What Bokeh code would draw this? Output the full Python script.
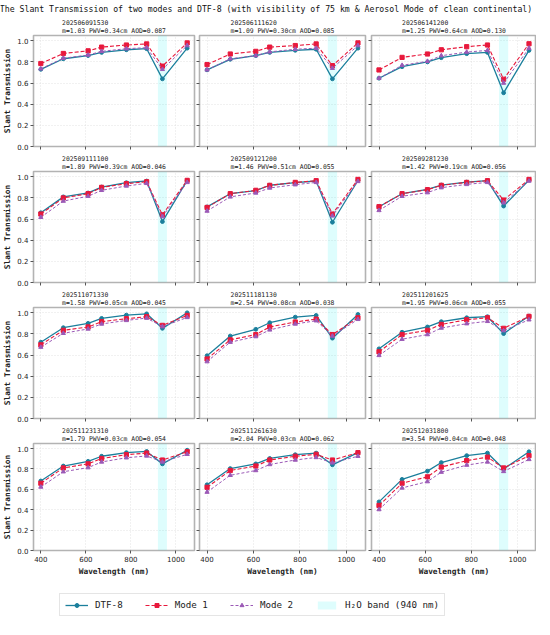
from bokeh.plotting import figure
from bokeh.layouts import column, row
from bokeh.models import (Range1d, FixedTicker, PrintfTickFormatter, BoxAnnotation,
                          Legend, LegendItem)
from bokeh.core.properties import value
from bokeh.embed import file_html
from bokeh.resources import INLINE

# ---------------- data ----------------
main_title = ("The Slant Transmission of two modes and DTF-8 "
              "(with visibility of 75 km & Aerosol Mode of clean continental)")
wavelengths = [400, 500, 610, 670, 780, 870, 940, 1050]
h2o_band = [920, 960]
timestamps = ["202506091530", "202506111620", "202506141200",
              "202509111100", "202509121200", "202509281230",
              "202511071330", "202511181130", "202511201625",
              "202511231310", "202511261630", "202512031800"]
params = ["m=1.03 PWV=0.34cm AOD=0.087", "m=1.09 PWV=0.30cm AOD=0.085",
          "m=1.25 PWV=0.64cm AOD=0.130", "m=1.89 PWV=0.39cm AOD=0.046",
          "m=1.46 PWV=0.51cm AOD=0.055", "m=1.42 PWV=0.19cm AOD=0.056",
          "m=1.58 PWV=0.05cm AOD=0.045", "m=2.54 PWV=0.08cm AOD=0.038",
          "m=1.95 PWV=0.06cm AOD=0.055", "m=1.79 PWV=0.03cm AOD=0.054",
          "m=2.04 PWV=0.03cm AOD=0.062", "m=3.54 PWV=0.04cm AOD=0.048"]
dtf8 = [
    [0.730, 0.830, 0.860, 0.890, 0.915, 0.925, 0.640, 0.930],
    [0.725, 0.825, 0.860, 0.890, 0.910, 0.920, 0.640, 0.930],
    [0.646, 0.755, 0.800, 0.840, 0.878, 0.890, 0.508, 0.909],
    [0.660, 0.810, 0.847, 0.903, 0.944, 0.960, 0.576, 0.966],
    [0.715, 0.840, 0.870, 0.920, 0.945, 0.960, 0.570, 0.965],
    [0.717, 0.840, 0.880, 0.922, 0.950, 0.963, 0.723, 0.969],
    [0.722, 0.859, 0.900, 0.947, 0.978, 0.990, 0.853, 1.000],
    [0.594, 0.780, 0.844, 0.906, 0.959, 0.975, 0.760, 0.984],
    [0.659, 0.816, 0.866, 0.916, 0.953, 0.963, 0.803, 0.969],
    [0.682, 0.829, 0.875, 0.925, 0.960, 0.972, 0.850, 0.984],
    [0.645, 0.804, 0.850, 0.903, 0.940, 0.956, 0.841, 0.960],
    [0.477, 0.698, 0.779, 0.863, 0.931, 0.956, 0.800, 0.969],
]
mode1 = [
    [0.785, 0.880, 0.905, 0.940, 0.960, 0.970, 0.760, 0.980],
    [0.775, 0.875, 0.900, 0.940, 0.955, 0.970, 0.765, 0.980],
    [0.724, 0.843, 0.875, 0.915, 0.944, 0.960, 0.636, 0.972],
    [0.648, 0.800, 0.840, 0.900, 0.935, 0.953, 0.640, 0.966],
    [0.710, 0.840, 0.872, 0.919, 0.947, 0.963, 0.648, 0.975],
    [0.717, 0.840, 0.878, 0.919, 0.947, 0.963, 0.780, 0.975],
    [0.697, 0.834, 0.866, 0.916, 0.944, 0.963, 0.881, 0.975],
    [0.563, 0.744, 0.794, 0.866, 0.913, 0.940, 0.794, 0.953],
    [0.631, 0.794, 0.834, 0.890, 0.934, 0.953, 0.853, 0.966],
    [0.660, 0.810, 0.850, 0.903, 0.940, 0.956, 0.888, 0.969],
    [0.620, 0.785, 0.829, 0.888, 0.925, 0.944, 0.888, 0.960],
    [0.442, 0.660, 0.723, 0.819, 0.882, 0.916, 0.810, 0.931],
]
mode2 = [
    [0.735, 0.835, 0.865, 0.900, 0.925, 0.935, 0.730, 0.955],
    [0.725, 0.830, 0.860, 0.895, 0.920, 0.930, 0.740, 0.955],
    [0.646, 0.768, 0.806, 0.859, 0.893, 0.909, 0.600, 0.930],
    [0.617, 0.770, 0.816, 0.872, 0.913, 0.938, 0.623, 0.947],
    [0.676, 0.810, 0.847, 0.894, 0.925, 0.947, 0.630, 0.956],
    [0.682, 0.816, 0.850, 0.897, 0.928, 0.947, 0.754, 0.960],
    [0.675, 0.806, 0.847, 0.894, 0.928, 0.950, 0.869, 0.956],
    [0.538, 0.722, 0.775, 0.838, 0.894, 0.925, 0.780, 0.938],
    [0.597, 0.750, 0.794, 0.856, 0.897, 0.919, 0.831, 0.934],
    [0.623, 0.773, 0.813, 0.869, 0.910, 0.928, 0.869, 0.944],
    [0.573, 0.738, 0.785, 0.844, 0.888, 0.913, 0.860, 0.925],
    [0.402, 0.614, 0.676, 0.769, 0.838, 0.869, 0.776, 0.894],
]
series_names = ["DTF-8", "Mode 1", "Mode 2"]
band_label = "H\u2082O band (940 nm)"
x_ticks = [400, 600, 800, 1000]
y_ticks = [0.0, 0.2, 0.4, 0.6, 0.8, 1.0]

# ---------------- style ----------------
MONO = "DejaVu Sans Mono"
SANS = "DejaVu Sans"
C_DTF = "#1b7f9c"
C_M1 = "#e8193c"
C_M2 = "#9b59b6"
C_BAND = "#00f0f0"
BAND_ALPHA = 0.13

col_w = [196, 172, 168]
col_l = [29, 3, 3]
col_r = [2, 3, 0]
TOP = 18


def hide_labels(ax, ticks):
    ax.major_label_overrides = {t: "" for t in ticks}
    ax.major_label_text_font_size = "1px"
    ax.major_label_standoff = 0


def make_panel(i):
    r, c = divmod(i, 3)
    last_row = (r == 3)
    bottom = 24 if last_row else 6
    h = TOP + 112 + bottom
    p = figure(width=col_w[c], height=h,
               x_range=Range1d(367.5, 1082.5), y_range=Range1d(0, 1.05),
               output_backend="svg", toolbar_location=None,
               min_border_left=col_l[c], min_border_right=col_r[c],
               min_border_top=TOP, min_border_bottom=bottom,
               title=timestamps[i] + "\n" + params[i])
    p.title.align = "center"
    p.title.text_font = MONO
    p.title.text_font_size = "6.4px"
    p.title.text_font_style = "normal"
    p.title.text_color = "#222222"
    p.title.standoff = 1
    p.title.text_line_height = 1.0

    p.outline_line_color = "#b3b3b3"
    p.outline_line_width = 1.6
    p.background_fill_color = "white"
    p.border_fill_color = "white"

    for ax in (p.xaxis[0], p.yaxis[0]):
        ax.axis_line_color = None
        ax.major_tick_in = 0
        ax.major_tick_out = 3
        ax.minor_tick_in = 0
        ax.minor_tick_out = 0
        ax.major_tick_line_color = "#555555"
        ax.minor_tick_line_color = None
        ax.major_label_text_font = SANS
        ax.major_label_text_font_size = "7px"
        ax.major_label_text_color = "#222222"
        ax.axis_label_text_font = MONO
        ax.axis_label_text_font_size = "7.8px"
        ax.axis_label_text_font_style = "bold"
        ax.axis_label_text_color = "#222222"
        ax.axis_label_standoff = 2
        ax.major_label_standoff = 2
    p.xaxis.ticker = FixedTicker(ticks=x_ticks)
    p.yaxis.ticker = FixedTicker(ticks=y_ticks)
    p.yaxis.formatter = PrintfTickFormatter(format="%.1f")
    if last_row:
        p.xaxis.axis_label = "Wavelength (nm)"
    else:
        hide_labels(p.xaxis[0], x_ticks)
    if c == 0:
        p.yaxis.axis_label = "Slant Transmission"
    else:
        hide_labels(p.yaxis[0], y_ticks)

    p.xgrid.ticker = FixedTicker(ticks=x_ticks)
    p.ygrid.ticker = FixedTicker(ticks=y_ticks)
    p.grid.grid_line_color = "#dcdcdc"
    p.grid.grid_line_dash = "1 2"
    p.grid.grid_line_width = 0.8

    p.add_layout(BoxAnnotation(left=h2o_band[0], right=h2o_band[1],
                               fill_color=C_BAND, fill_alpha=BAND_ALPHA,
                               line_color=None, level="underlay"))

    p.line(wavelengths, dtf8[i], line_color=C_DTF, line_width=1.3)
    p.scatter(wavelengths, dtf8[i], marker="circle", size=3.8,
              fill_color=C_DTF, line_color=C_DTF)
    p.line(wavelengths, mode1[i], line_color=C_M1, line_width=1.1,
           line_dash="4 2")
    p.scatter(wavelengths, mode1[i], marker="square", size=4.2,
              fill_color=C_M1, line_color=C_M1)
    p.line(wavelengths, mode2[i], line_color=C_M2, line_width=1.0,
           line_dash="3 2")
    p.scatter(wavelengths, mode2[i], marker="triangle", size=4.2,
              fill_color=C_M2, line_color=C_M2)
    return p


panels = [make_panel(i) for i in range(12)]
total_w = sum(col_w)
title_w = 540

# title strip
tfig = figure(width=title_w, height=16, x_range=Range1d(0, title_w), y_range=Range1d(0, 1),
              output_backend="svg", toolbar_location=None,
              min_border=0, x_axis_type=None, y_axis_type=None)
tfig.outline_line_color = None
tfig.grid.visible = False
tfig.text(x=[265.5], y=[0.5], text=[main_title], text_align="center",
          text_baseline="middle", text_font=value(MONO),
          text_font_size=value("8.2px"), text_color="#111111")

# legend strip: the legend renderers reuse the series data, which lies outside
# this strip's ranges, so only the legend itself is visible
lfig = figure(width=total_w, height=41, x_range=Range1d(0, 1), y_range=Range1d(0, 1),
              output_backend="svg", toolbar_location=None,
              min_border=0, x_axis_type=None, y_axis_type=None)
lfig.outline_line_color = None
lfig.grid.visible = False
l1 = lfig.line(wavelengths, dtf8[0], line_color=C_DTF, line_width=1.3)
s1 = lfig.scatter(wavelengths, dtf8[0], marker="circle", size=3.8,
                  fill_color=C_DTF, line_color=C_DTF)
l2 = lfig.line(wavelengths, mode1[0], line_color=C_M1, line_width=1.1, line_dash="4 2")
s2 = lfig.scatter(wavelengths, mode1[0], marker="square", size=4.2,
                  fill_color=C_M1, line_color=C_M1)
l3 = lfig.line(wavelengths, mode2[0], line_color=C_M2, line_width=1.0, line_dash="3 2")
s3 = lfig.scatter(wavelengths, mode2[0], marker="triangle", size=4.2,
                  fill_color=C_M2, line_color=C_M2)
q4 = lfig.quad(left=[h2o_band[0]], right=[h2o_band[1]], top=[1.05], bottom=[0],
               fill_color=C_BAND, fill_alpha=BAND_ALPHA, line_color=None)
legend = Legend(items=[LegendItem(label=series_names[0], renderers=[l1, s1]),
                       LegendItem(label=series_names[1], renderers=[l2, s2]),
                       LegendItem(label=series_names[2], renderers=[l3, s3]),
                       LegendItem(label=band_label, renderers=[q4])],
                orientation="horizontal", location=(59, 3))
legend.label_text_font = MONO
legend.label_text_font_size = "9.2px"
legend.label_text_color = "#222222"
legend.glyph_width = 23
legend.glyph_height = 10
legend.label_standoff = 7
legend.spacing = 22
legend.padding = 5
legend.margin = 0
legend.border_line_color = "#cccccc"
legend.border_line_width = 1
legend.background_fill_color = "white"
legend.background_fill_alpha = 1.0
lfig.add_layout(legend, "center")

layout = column(tfig,
                row(*panels[0:3]), row(*panels[3:6]),
                row(*panels[6:9]), row(*panels[9:12]),
                lfig)

with open("out.html", "w") as f:
    f.write(file_html(layout, INLINE))
